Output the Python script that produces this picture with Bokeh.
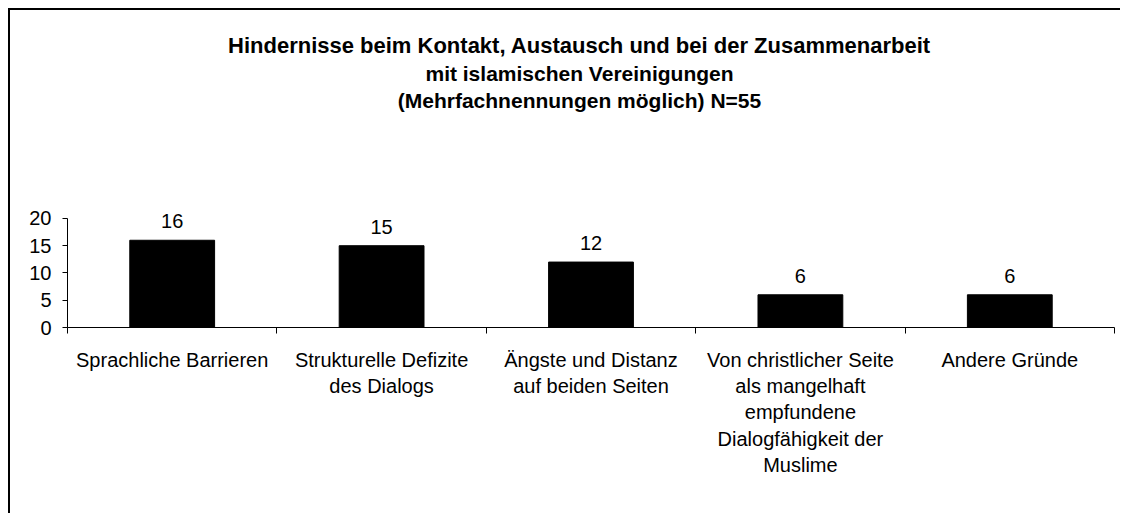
from bokeh.plotting import figure
from bokeh.models import Range1d, FixedTicker, Label, ColumnDataSource
from bokeh.core.properties import value
from bokeh.embed import file_html
from bokeh.resources import INLINE

# ---- data ----
categories = [
    "Sprachliche Barrieren",
    "Strukturelle Defizite\ndes Dialogs",
    "Ängste und Distanz\nauf beiden Seiten",
    "Von christlicher Seite\nals mangelhaft\nempfundene\nDialogfähigkeit der\nMuslime",
    "Andere Gründe",
]
counts = [16, 15, 12, 6, 6]
y_ticks = [0, 5, 10, 15, 20]
title_lines = [
    "Hindernisse beim Kontakt, Austausch und bei der Zusammenarbeit",
    "mit islamischen Vereinigungen",
    "(Mehrfachnennungen möglich) N=55",
]

FONT = "Liberation Sans"
W, H = 1112, 505

n = len(categories)
centers = [i + 0.5 for i in range(n)]
bounds = list(range(n + 1))

src = ColumnDataSource(dict(x=centers, top=counts, lab=[str(c) for c in counts]))

p = figure(width=W, height=H, output_backend="svg", toolbar_location=None,
           x_range=Range1d(0, n), y_range=Range1d(0, 56.3),
           min_border_left=57, min_border_right=8, min_border_top=10,
           min_border_bottom=188)
p.styles = {"margin-left": "8px", "margin-top": "8px",
            "border-left": "2px solid black", "border-top": "2px solid black"}
p.outline_line_color = None
p.xgrid.visible = False
p.ygrid.visible = False
p.background_fill_color = "white"
p.border_fill_color = "white"

p.vbar(x="x", top="top", width=0.405, bottom=0, source=src,
       fill_color="black", line_color="black")
p.text(x="x", y="top", text="lab", source=src, text_align="center",
       text_baseline="alphabetic", y_offset=-19, text_color="black",
       text_font=value(FONT), text_font_size="20px")

# y axis
ya = p.yaxis[0]
ya.ticker = FixedTicker(ticks=y_ticks)
ya.bounds = (min(y_ticks), max(y_ticks))
ya.major_tick_out = 5
ya.major_tick_in = 0
ya.minor_tick_out = 0
ya.minor_tick_in = 0
ya.axis_line_color = "black"
ya.major_tick_line_color = "black"
ya.major_label_text_font = FONT
ya.major_label_text_font_size = "20px"
ya.major_label_text_color = "black"
ya.major_label_standoff = 11

# x axis
xa = p.xaxis[0]
xa.ticker = FixedTicker(ticks=centers, minor_ticks=bounds)
xa.major_label_overrides = {c: lab for c, lab in zip(centers, categories)}
xa.major_tick_out = 0
xa.major_tick_in = 0
xa.minor_tick_out = 6
xa.minor_tick_in = 0
xa.minor_tick_line_color = "black"
xa.axis_line_color = "black"
xa.major_label_text_font = FONT
xa.major_label_text_font_size = "20px"
xa.major_label_text_color = "black"
xa.major_label_standoff = 15

# titles (screen units relative to the plot frame)
title_y = [282, 254, 227]
title_sizes = ["22px", "21px", "21px"]
for t, yy, fs in zip(title_lines, title_y, title_sizes):
    p.add_layout(Label(x=512, y=yy, x_units="screen", y_units="screen", text=t,
                       text_align="center", text_baseline="middle",
                       text_font=FONT, text_font_style="bold",
                       text_font_size=fs, text_color="black"))

open("out.html", "w").write(file_html(p, INLINE))
